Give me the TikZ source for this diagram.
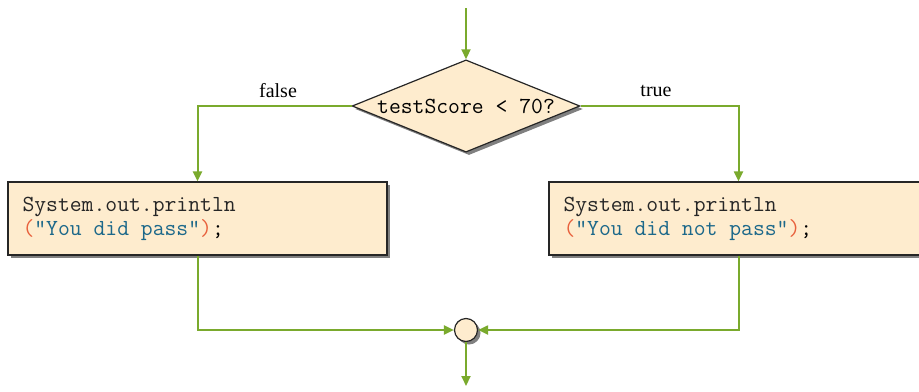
\documentclass[tikz,border=0pt]{standalone}
\usepackage{fontspec}
\setmainfont{Liberation Serif}
\usetikzlibrary{shapes.geometric,shadows,arrows.meta}
\definecolor{flowgreen}{RGB}{122,170,45}
\definecolor{boxfill}{RGB}{254,236,206}
\definecolor{parenred}{RGB}{232,96,60}
\definecolor{strblue}{RGB}{28,104,138}
\newcommand{\codefont}{\ttfamily\fontsize{11.5}{12}\selectfont}
\tikzset{
  flow/.style={draw=flowgreen, line width=1pt, -{Triangle[length=5pt,width=4.5pt]}},
  boxshadow/.style={drop shadow={shadow xshift=1.5pt, shadow yshift=-1.5pt, fill=black!50, opacity=1}},
  stmt/.style={draw=black!85, fill=boxfill, line width=0.6pt, boxshadow,
    minimum width=189.5pt, minimum height=36.5pt, text width=175pt, inner xsep=7pt,
    align=flush left, font=\codefont},
  test/.style={diamond, draw=black!85, fill=boxfill, line width=0.6pt, boxshadow,
    aspect=2.47, inner sep=1pt, minimum width=111pt, minimum height=45pt, font=\codefont},
}
\begin{document}
\begin{tikzpicture}[x=0.5pt, y=-0.5pt]
    \useasboundingbox (0,0) rectangle (919,391);
    \coordinate (in) at (466,8);
    \coordinate (out) at (466,386);
    \node[test] (score) at (466,106) {testScore < 70?};
    \node[stmt] (pass) at (197.5,218.5) {\textcolor{black!85}{System.out.println}\\
      \textcolor{parenred}{(}\textcolor{strblue}{"You did pass"}\textcolor{parenred}{)};};
    \node[stmt] (fail) at (738.5,218.5) {\textcolor{black!85}{System.out.println}\\
      \textcolor{parenred}{(}\textcolor{strblue}{"You did not pass"}\textcolor{parenred}{)};};
    \node[circle, draw=black!85, fill=boxfill, line width=0.6pt, boxshadow,
      minimum size=11.5pt, inner sep=0pt] (join) at (466,330) {};
    % branch labels
    \node (falselbl) at (278,91) {false};
    \node (truelbl) at (656,91) {true};
    \draw[flow] (in) -- (score.north);
    \draw[flow] (score.west) -| (pass.north);
    \draw[flow] (score.east) -| (fail.north);
    \draw[flow] (pass.south) |- (join.west);
    \draw[flow] (fail.south) |- (join.east);
    \draw[flow] (join.south) -- (out);
\end{tikzpicture}
\end{document}
